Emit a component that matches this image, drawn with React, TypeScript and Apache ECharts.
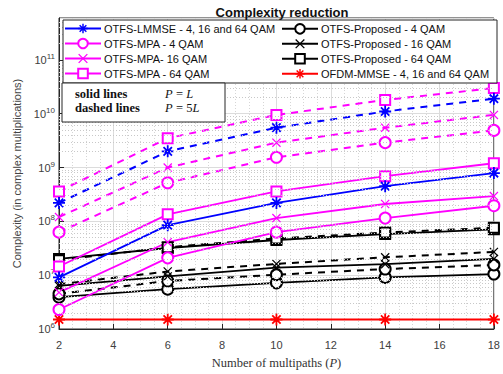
import React, { useEffect, useRef } from 'react';
import * as echarts from 'echarts';

// Number of multipaths P
const pValues = [2, 6, 10, 14, 18];
const xTicks = [2, 4, 6, 8, 10, 12, 14, 16, 18];

// P = L (solid lines)
const lmmseSolid = [9.1e6, 8.5e7, 2.2e8, 4.5e8, 7.9e8];
const mpa4Solid = [2.3e6, 2.1e7, 6.3e7, 1.15e8, 1.95e8];
const mpa16Solid = [4.8e6, 4.1e7, 1.15e8, 2.1e8, 2.95e8];
const mpa64Solid = [1.45e7, 1.35e8, 3.6e8, 6.9e8, 1.2e9];
const prop4Solid = [3.9e6, 5.5e6, 7.2e6, 9.1e6, 1.05e7];
const prop16Solid = [6.3e6, 9.5e6, 1.38e7, 1.6e7, 2.0e7];
const prop64Solid = [2.0e7, 3.2e7, 4.5e7, 5.8e7, 7.1e7];
const ofdmSolid = [1.5e6, 1.5e6, 1.5e6, 1.5e6, 1.5e6];

// P = 5L (dashed lines)
const lmmseDashed = [2.2e8, 2.0e9, 5.5e9, 1.1e10, 1.9e10];
const mpa4Dashed = [6.3e7, 5.2e8, 1.55e9, 2.9e9, 4.9e9];
const mpa16Dashed = [1.2e8, 1.0e9, 2.9e9, 5.5e9, 9.5e9];
const mpa64Dashed = [3.6e8, 3.5e9, 9.5e9, 1.8e10, 3.0e10];
const prop4Dashed = [4.5e6, 7.8e6, 1.02e7, 1.3e7, 1.55e7];
const prop16Dashed = [6.8e6, 1.17e7, 1.62e7, 2.15e7, 2.7e7];
const prop64Dashed = [1.9e7, 3.3e7, 4.8e7, 6.2e7, 7.6e7];

const yMin = 1e6;
const yMax = 6e11;
const decades = [1e6, 1e7, 1e8, 1e9, 1e10, 1e11];
const minorMultipliers = [2, 3, 4, 5, 6, 7, 8, 9];

const legendLeft = [
  'OTFS-LMMSE - 4, 16 and 64 QAM',
  'OTFS-MPA - 4 QAM',
  'OTFS-MPA- 16 QAM',
  'OTFS-MPA - 64 QAM',
];
const legendRight = [
  'OTFS-Proposed - 4 QAM',
  'OTFS-Proposed - 16 QAM',
  'OTFS-Proposed - 64 QAM',
  'OFDM-MMSE - 4, 16 and 64 QAM',
];

const STAR =
  'path://M-1 -0.15 L-1 0.15 L1 0.15 L1 -0.15 Z ' +
  'M-0.15 -1 L-0.15 1 L0.15 1 L0.15 -1 Z ' +
  'M-0.806 -0.594 L0.594 0.806 L0.806 0.594 L-0.594 -0.806 Z ' +
  'M-0.594 0.806 L0.806 -0.594 L0.594 -0.806 L-0.806 0.594 Z';
const CROSS =
  'path://M-1.106 -0.894 L0.894 1.106 L1.106 0.894 L-0.894 -1.106 Z ' +
  'M-0.894 1.106 L1.106 -0.894 L0.894 -1.106 L-1.106 0.894 Z';

const BLUE = '#0000ff';
const MAG = '#ff00ff';
const BLACK = '#000000';
const RED = '#ff0000';
const SANS = 'Liberation Sans';
const SERIF = 'Liberation Serif';

function mk(name: string, vals: number[], color: string, symbol: string, size: number, dashed: boolean) {
  const hollow = symbol === 'emptyCircle' || symbol === 'emptyRect';
  return {
    type: 'line',
    name,
    data: pValues.map((p, i) => [p, vals[i]]),
    symbol,
    symbolSize: size,
    showAllSymbol: true,
    z: 3,
    lineStyle: {
      color,
      width: dashed ? 2 : 1.8,
      type: dashed ? [7, 6] : 'solid',
    },
    itemStyle: hollow
      ? { color, borderColor: color, borderWidth: 1.6 }
      : { color, borderWidth: 0 },
  };
}

export default function App() {
  const ref = useRef<HTMLDivElement>(null);
  useEffect(() => {
    document.body.style.margin = '0';
    const chart = echarts.init(ref.current!, undefined, { renderer: 'svg' });

    const minorVals: number[] = [];
    decades.forEach((d) => minorMultipliers.forEach((m) => { if (d * m < yMax) minorVals.push(d * m); }));

    const series: any[] = [
      {
        type: 'line',
        name: '_grid',
        data: pValues.map((p, i) => [p, ofdmSolid[i]]),
        showSymbol: false,
        lineStyle: { opacity: 0 },
        z: 1,
        silent: true,
        markLine: {
          silent: true,
          symbol: 'none',
          animation: false,
          label: { show: false },
          lineStyle: { type: [1, 2], color: '#c8c8c8', width: 1 },
          data: minorVals.map((v) => ({ yAxis: v })),
        },
      },
      mk(legendRight[3], ofdmSolid, RED, STAR, 12, false),
      mk(legendRight[0], prop4Solid, BLACK, 'emptyCircle', 11, false),
      mk('Proposed4 5L', prop4Dashed, BLACK, 'emptyCircle', 11, true),
      mk(legendRight[1], prop16Solid, BLACK, CROSS, 9, false),
      mk('Proposed16 5L', prop16Dashed, BLACK, CROSS, 9, true),
      mk(legendRight[2], prop64Solid, BLACK, 'emptyRect', 10, false),
      mk('Proposed64 5L', prop64Dashed, BLACK, 'emptyRect', 10, true),
      mk(legendLeft[1], mpa4Solid, MAG, 'emptyCircle', 11, false),
      mk('MPA4 5L', mpa4Dashed, MAG, 'emptyCircle', 11, true),
      mk(legendLeft[2], mpa16Solid, MAG, CROSS, 9, false),
      mk('MPA16 5L', mpa16Dashed, MAG, CROSS, 9, true),
      mk(legendLeft[3], mpa64Solid, MAG, 'emptyRect', 10, false),
      mk('MPA64 5L', mpa64Dashed, MAG, 'emptyRect', 10, true),
      mk(legendLeft[0], lmmseSolid, BLUE, STAR, 12, false),
      mk('LMMSE 5L', lmmseDashed, BLUE, STAR, 12, true),
    ];

    const legendCommon = {
      orient: 'vertical',
      top: 23,
      padding: 0,
      itemWidth: 36,
      itemHeight: 12,
      itemGap: 3.7,
      selectedMode: false,
      z: 10,
      textStyle: { fontSize: 11, fontFamily: SANS, color: '#111', padding: [0, 0, 0, -2] },
    };

    chart.setOption({
      animation: false,
      backgroundColor: '#ffffff',
      title: {
        text: 'Complexity reduction',
        left: 277,
        textAlign: 'center',
        top: 1,
        textStyle: { fontSize: 13, fontWeight: 'bold', fontFamily: SANS, color: '#111' },
      },
      legend: [
        { ...legendCommon, left: 64, data: legendLeft },
        { ...legendCommon, left: 281, data: legendRight },
      ],
      grid: {
        left: 59,
        right: 9,
        top: 18,
        bottom: 44,
        show: true,
        borderColor: '#262626',
        borderWidth: 1,
        backgroundColor: 'transparent',
      },
      xAxis: {
        type: 'value',
        min: 2,
        max: 18,
        interval: 2,
        name: '{t|Number of multipaths (}{i|P}{t|)}',
        nameLocation: 'middle',
        nameGap: 27,
        nameTextStyle: {
          rich: {
            t: { fontSize: 12.5, fontFamily: SERIF, color: '#333' },
            i: { fontSize: 12.5, fontStyle: 'italic', fontFamily: SERIF, color: '#333' },
          },
        },
        axisLine: { show: true, lineStyle: { color: '#262626' } },
        axisTick: { inside: true, length: 5, lineStyle: { color: '#262626' } },
        axisLabel: {
          fontSize: 11,
          color: '#404040',
          fontFamily: SANS,
          margin: 10,
          formatter: (v: number) => (xTicks.includes(v) ? String(v) : ''),
        },
        splitLine: { show: true, lineStyle: { color: '#dcdcdc', width: 1 } },
        minorTick: { show: false, splitNumber: 4 },
        minorSplitLine: { show: true, lineStyle: { color: '#d6d6d6', type: [1, 2], width: 1 } },
      },
      yAxis: {
        type: 'log',
        min: yMin,
        max: yMax,
        logBase: 10,
        splitNumber: 5,
        name: 'Complexity (in complex multiplications)',
        nameLocation: 'middle',
        nameGap: 34,
        nameTextStyle: { fontSize: 11, color: '#444', fontFamily: SANS },
        axisLine: { show: true, lineStyle: { color: '#262626' } },
        axisTick: { inside: true, length: 5, lineStyle: { color: '#262626' } },
        axisLabel: {
          margin: 4,
          showMaxLabel: false,
          formatter: (v: number) => {
            const e = Math.log10(v);
            if (Math.abs(e - Math.round(e)) > 1e-6) return '';
            return '{b|10}{s|' + Math.round(e) + '}';
          },
          rich: {
            b: { fontSize: 11, color: '#404040', fontFamily: SANS },
            s: { fontSize: 8, color: '#404040', fontFamily: SANS, padding: [0, 0, 7, 0] },
          },
        },
        splitLine: { show: true, lineStyle: { color: '#dcdcdc', width: 1 } },
      },
      graphic: [
        {
          type: 'rect',
          z: 8,
          shape: { x: 63, y: 20, width: 434, height: 63 },
          style: { fill: '#ffffff', stroke: '#262626', lineWidth: 1 },
        },
        {
          type: 'rect',
          z: 8,
          shape: { x: 62, y: 83, width: 163, height: 39 },
          style: { fill: '#ffffff', stroke: '#262626', lineWidth: 1 },
        },
        {
          type: 'text',
          z: 9,
          x: 75,
          y: 94,
          style: {
            text: 'solid lines',
            font: 'bold 12.5px "Liberation Serif", serif',
            fill: '#111',
            verticalAlign: 'middle',
          },
        },
        {
          type: 'text',
          z: 9,
          x: 75,
          y: 108,
          style: {
            text: 'dashed lines',
            font: 'bold 12.5px "Liberation Serif", serif',
            fill: '#111',
            verticalAlign: 'middle',
          },
        },
        {
          type: 'text',
          z: 9,
          x: 165,
          y: 94,
          style: {
            text: '{i|P} {r|=} {i|L}',
            verticalAlign: 'middle',
            rich: {
              i: { fontSize: 12.5, fontStyle: 'italic', fontFamily: SERIF, fill: '#111' },
              r: { fontSize: 12.5, fontFamily: SERIF, fill: '#111' },
            },
          },
        },
        {
          type: 'text',
          z: 9,
          x: 165,
          y: 108,
          style: {
            text: '{i|P} {r|= 5}{i|L}',
            verticalAlign: 'middle',
            rich: {
              i: { fontSize: 12.5, fontStyle: 'italic', fontFamily: SERIF, fill: '#111' },
              r: { fontSize: 12.5, fontFamily: SERIF, fill: '#111' },
            },
          },
        },
      ],
      series,
    });
    return () => chart.dispose();
  }, []);
  return <div ref={ref} style={{ width: 503, height: 374 }} />;
}
